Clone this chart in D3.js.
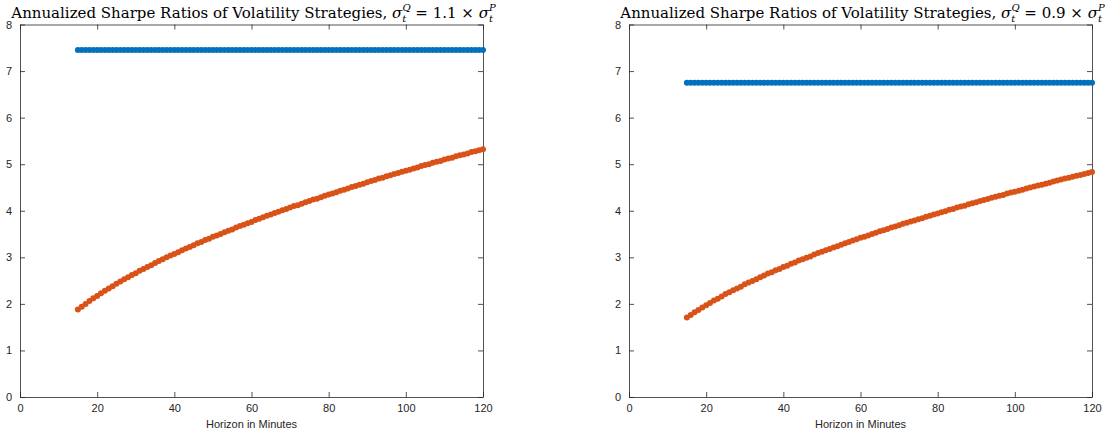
<!DOCTYPE html>
<html>
<head>
<meta charset="utf-8">
<script src="https://cdn.jsdelivr.net/npm/d3@7"></script>
<style>
  body { margin: 0; background: #fff; }
  svg { display: block; }
  .tick text { font-family: "Liberation Sans", Arial, sans-serif; font-size: 11px; fill: #262626; }
  .title { font-family: "DejaVu Serif", "Liberation Serif", serif; font-size: 15px; fill: #000; }
  .xlabel { font-family: "Liberation Sans", Arial, sans-serif; font-size: 11px; fill: #262626; }
</style>
</head>
<body>
<svg id="chart" width="1107" height="438"></svg>
<script>
// horizons in minutes
var horizons = [15,16,17,18,19,20,21,22,23,24,25,26,27,28,29,30,31,32,33,34,35,36,37,38,39,40,
  41,42,43,44,45,46,47,48,49,50,51,52,53,54,55,56,57,58,59,60,61,62,63,64,65,66,67,68,69,70,
  71,72,73,74,75,76,77,78,79,80,81,82,83,84,85,86,87,88,89,90,91,92,93,94,95,96,97,98,99,100,
  101,102,103,104,105,106,107,108,109,110,111,112,113,114,115,116,117,118,119,120];

// left panel (sigma Q = 1.1 x sigma P)
var blueLeft = 7.45;
var orangeLeft = [1.88,1.94,2.00,2.06,2.12,2.17,2.23,2.28,2.33,2.38,2.43,2.48,2.53,2.57,2.62,2.66,
  2.71,2.75,2.79,2.83,2.88,2.92,2.96,3.00,3.04,3.07,3.11,3.15,3.19,3.22,3.26,3.30,3.33,3.37,3.40,
  3.44,3.47,3.50,3.54,3.57,3.60,3.64,3.67,3.70,3.73,3.76,3.80,3.83,3.86,3.89,3.92,3.95,3.98,4.01,
  4.04,4.07,4.10,4.12,4.15,4.18,4.21,4.24,4.26,4.29,4.32,4.35,4.37,4.40,4.43,4.45,4.48,4.51,4.53,
  4.56,4.58,4.61,4.64,4.66,4.69,4.71,4.74,4.76,4.79,4.81,4.84,4.86,4.88,4.91,4.93,4.96,4.98,5.00,
  5.03,5.05,5.07,5.10,5.12,5.14,5.17,5.19,5.21,5.23,5.26,5.28,5.30,5.32];

// right panel (sigma Q = 0.9 x sigma P)
var blueRight = 6.75;
var orangeRight = [1.71,1.76,1.82,1.87,1.92,1.97,2.02,2.07,2.11,2.16,2.21,2.25,2.29,2.33,2.37,2.42,
  2.46,2.49,2.53,2.57,2.61,2.65,2.68,2.72,2.75,2.79,2.82,2.86,2.89,2.93,2.96,2.99,3.02,3.06,3.09,
  3.12,3.15,3.18,3.21,3.24,3.27,3.30,3.33,3.36,3.39,3.42,3.44,3.47,3.50,3.53,3.56,3.58,3.61,3.64,
  3.66,3.69,3.72,3.74,3.77,3.79,3.82,3.84,3.87,3.89,3.92,3.94,3.97,3.99,4.02,4.04,4.07,4.09,4.11,
  4.14,4.16,4.18,4.21,4.23,4.25,4.28,4.30,4.32,4.34,4.37,4.39,4.41,4.43,4.45,4.48,4.50,4.52,4.54,
  4.56,4.58,4.60,4.63,4.65,4.67,4.69,4.71,4.73,4.75,4.77,4.79,4.81,4.83];

var xTicks = [0, 20, 40, 60, 80, 100, 120];
var yTicks = [0, 1, 2, 3, 4, 5, 6, 7, 8];
var titleFactors = ["1.1", "0.9"];

var blueColor = "#0072BD", orangeColor = "#D95319", axisColor = "#262626";

var svg = d3.select("#chart");

var panels = [
  {left: 20, right: 483, blue: blueLeft, orange: orangeLeft, factor: titleFactors[0]},
  {left: 629, right: 1092, blue: blueRight, orange: orangeRight, factor: titleFactors[1]}
];
var plotTop = 24.5, plotBottom = 397;

panels.forEach(function(p) {
  var x = d3.scaleLinear().domain([0, 120]).range([p.left, p.right]);
  var y = d3.scaleLinear().domain([0, 8]).range([plotBottom, plotTop]);
  var g = svg.append("g");

  // axes with inward ticks, box on all four sides
  var ax = [
    {gen: d3.axisBottom(x).tickValues(xTicks).tickSize(-5).tickPadding(7), t: "translate(0," + plotBottom + ")", labels: true},
    {gen: d3.axisTop(x).tickValues(xTicks).tickSize(-5), t: "translate(0," + plotTop + ")", labels: false},
    {gen: d3.axisLeft(y).tickValues(yTicks).tickSize(-5).tickPadding(8), t: "translate(" + p.left + ",0)", labels: true},
    {gen: d3.axisRight(y).tickValues(yTicks).tickSize(-5), t: "translate(" + p.right + ",0)", labels: false}
  ];
  ax.forEach(function(a) {
    var sel = g.append("g").attr("transform", a.t).call(a.gen.tickSizeOuter(0));
    sel.select(".domain").attr("stroke", axisColor).attr("stroke-width", 0.8);
    sel.selectAll(".tick line").attr("stroke", axisColor).attr("stroke-width", 0.8);
    if (!a.labels) sel.selectAll(".tick text").remove();
  });

  // blue constant series
  g.append("g").selectAll("circle")
    .data(horizons)
    .enter().append("circle")
      .attr("cx", function(d) { return x(d); })
      .attr("cy", y(p.blue))
      .attr("r", 3)
      .attr("fill", blueColor);

  // orange series
  g.append("g").selectAll("circle")
    .data(p.orange)
    .enter().append("circle")
      .attr("cx", function(d, i) { return x(horizons[i]); })
      .attr("cy", function(d) { return y(d); })
      .attr("r", 3)
      .attr("fill", orangeColor);

  g.append("text")
    .attr("class", "xlabel")
    .attr("x", (p.left + p.right) / 2)
    .attr("y", 428)
    .attr("text-anchor", "middle")
    .text("Horizon in Minutes");

  var title = g.append("text")
    .attr("class", "title")
    .attr("x", (p.left + p.right) / 2 + 2)
    .attr("y", 18)
    .attr("text-anchor", "middle");
  title.append("tspan").text("Annualized Sharpe Ratios of Volatility Strategies, ");
  title.append("tspan").attr("font-style", "italic").text("σ");
  title.append("tspan").attr("font-style", "italic").attr("font-size", "10px").attr("dy", 4).text("t");
  title.append("tspan").attr("font-style", "italic").attr("font-size", "10px").attr("dx", -4).attr("dy", -11).text("Q");
  title.append("tspan").attr("dy", 7).text(" = " + p.factor + " × ");
  title.append("tspan").attr("font-style", "italic").text("σ");
  title.append("tspan").attr("font-style", "italic").attr("font-size", "10px").attr("dy", 4).text("t");
  title.append("tspan").attr("font-style", "italic").attr("font-size", "10px").attr("dx", -4).attr("dy", -11).text("P");
});
</script>
</body>
</html>
